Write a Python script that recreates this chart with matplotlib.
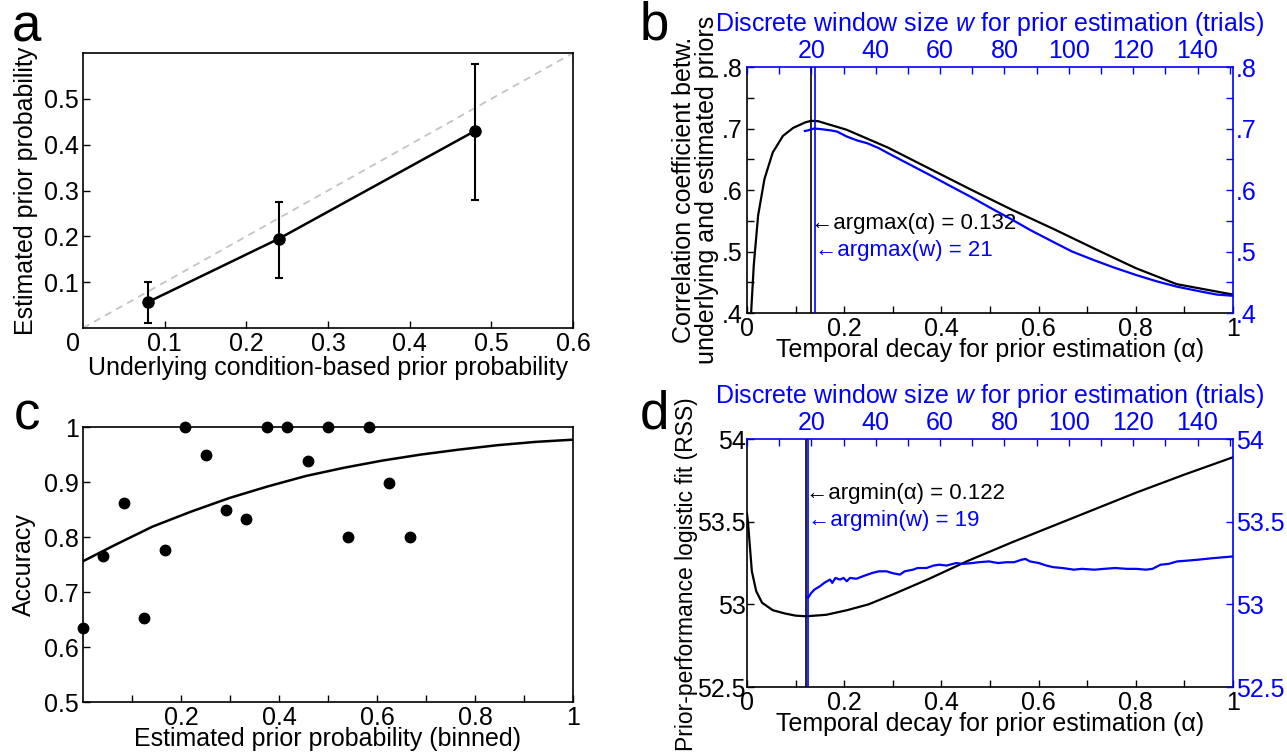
import matplotlib
matplotlib.use("Agg")
import matplotlib.pyplot as plt
import numpy as np
from matplotlib.ticker import MultipleLocator, FixedLocator, FixedFormatter

plt.rcParams['font.family'] = ['Liberation Sans', 'DejaVu Sans']
plt.rcParams['font.size'] = 18
plt.rcParams['mathtext.fontset'] = 'custom'
plt.rcParams['mathtext.it'] = 'Liberation Sans:italic'

BLUE = '#0000ff'

# ---- panel a data
a_true = [0.08, 0.24, 0.48]
a_est = [0.057, 0.195, 0.43]
a_lo = [0.012, 0.11, 0.28]
a_hi = [0.10, 0.275, 0.575]

# ---- panel b data
b_alpha = [0.0085, 0.014, 0.023, 0.036, 0.053, 0.074, 0.095, 0.12, 0.132, 0.146,
           0.205, 0.29, 0.375, 0.46, 0.545, 0.63, 0.714, 0.80, 0.884, 1.0]
b_corr = [0.40, 0.478, 0.559, 0.618, 0.661, 0.688, 0.701, 0.710, 0.7125, 0.712,
          0.698, 0.669, 0.635, 0.601, 0.568, 0.537, 0.505, 0.473, 0.447, 0.430]
b_w = [18, 19, 20, 21, 23, 26, 28, 31, 34, 37.4, 41, 43.8, 50, 56.6, 63, 69.5,
       76, 82.3, 88, 95, 101, 107.8, 114, 120.8, 127, 133.5, 140, 146, 151]
b_wcorr = [0.696, 0.697, 0.699, 0.700, 0.699, 0.697, 0.695, 0.687, 0.681, 0.676,
           0.668, 0.660, 0.643, 0.625, 0.607, 0.589, 0.570, 0.552, 0.535, 0.516,
           0.500, 0.486, 0.474, 0.462, 0.452, 0.443, 0.436, 0.430, 0.428]

# ---- panel c data
c_prior = [0.0, 0.0417, 0.0833, 0.125, 0.1667, 0.2083, 0.25, 0.2917, 0.3333,
           0.375, 0.4167, 0.4583, 0.5, 0.5417, 0.5833, 0.625, 0.6667]
c_acc = [0.635, 0.765, 0.862, 0.653, 0.777, 1.0, 0.950, 0.850, 0.833,
         1.0, 1.0, 0.938, 1.0, 0.80, 1.0, 0.899, 0.80]
c_fit_x = [0.0, 0.064, 0.142, 0.22, 0.299, 0.377, 0.455, 0.533, 0.611, 0.69,
           0.768, 0.846, 0.924, 1.0]
c_fit_y = [0.756, 0.785, 0.819, 0.846, 0.871, 0.892, 0.911, 0.926, 0.939, 0.950,
           0.959, 0.967, 0.973, 0.977]

# ---- panel d data
d_alpha = [0.0, 0.002, 0.006, 0.01, 0.019, 0.031, 0.053, 0.078, 0.10, 0.122, 0.163,
           0.206, 0.25, 0.30, 0.375, 0.452, 0.545, 0.63, 0.715, 0.80, 0.90, 1.0]
d_rss = [53.55, 53.50, 53.35, 53.20, 53.08, 53.01, 52.965, 52.945, 52.932, 52.928,
         52.937, 52.965, 53.0, 53.06, 53.155, 53.26, 53.375, 53.475, 53.575, 53.675,
         53.785, 53.89]
d_w = [18.6, 19, 20, 21, 22.7, 24, 25.8, 26.5, 27.5, 28.9, 30, 31, 32, 34, 36, 38.9,
       41, 43.4, 45, 47.5, 49, 51.6, 53, 55.8, 58, 59.7, 62, 65, 67, 70, 72, 75.2,
       78, 80.6, 83, 85.3, 86.5, 87.9, 90.7, 93, 95.2, 98, 101.6, 104, 108, 111,
       114.4, 118, 120.9, 124, 126, 128.5, 131, 133.7, 137, 140, 145, 151]
d_wrss = [53.045, 53.04, 53.07, 53.09, 53.11, 53.13, 53.15, 53.13, 53.16, 53.15,
          53.16, 53.14, 53.16, 53.155, 53.17, 53.19, 53.20, 53.20, 53.19, 53.18,
          53.20, 53.21, 53.22, 53.22, 53.235, 53.24, 53.235, 53.25, 53.245, 53.25,
          53.255, 53.26, 53.25, 53.255, 53.255, 53.27, 53.275, 53.26, 53.25, 53.235,
          53.225, 53.22, 53.21, 53.215, 53.21, 53.215, 53.22, 53.215, 53.215, 53.21,
          53.215, 53.24, 53.245, 53.26, 53.265, 53.27, 53.28, 53.29]

fig = plt.figure(figsize=(12.87, 7.53), dpi=100)

def style(ax):
    ax.tick_params(direction='in', length=5, width=1, pad=3, labelsize=18)
    ax.tick_params(which='minor', direction='in', length=5, width=1)
    for s in ax.spines.values():
        s.set_linewidth(1.2)

# ---------------- a
axa = fig.add_axes([0.0645, 0.5644, 0.3807, 0.3652])
style(axa)
axa.tick_params(top=False, right=False)
axa.plot([0, 0.6], [0, 0.6], ls='--', color='#c4c4c4', lw=1.3, dashes=(4, 3))
yerr = [np.array(a_est) - np.array(a_lo), np.array(a_hi) - np.array(a_est)]
axa.errorbar(a_true, a_est, yerr=yerr, color='black', lw=1.8, marker='o', ms=8,
             capsize=3, capthick=1.5, elinewidth=1.5)
axa.set_xlim(0, 0.6)
axa.set_ylim(0, 0.6)
axa.xaxis.set_major_locator(FixedLocator([0.1, 0.2, 0.3, 0.4, 0.5, 0.6]))
axa.xaxis.set_major_formatter(FixedFormatter(['0.1', '0.2', '0.3', '0.4', '0.5', '0.6']))
axa.yaxis.set_major_locator(FixedLocator([0.1, 0.2, 0.3, 0.4, 0.5]))
axa.yaxis.set_major_formatter(FixedFormatter(['0.1', '0.2', '0.3', '0.4', '0.5']))
axa.annotate('0', xy=(0, 0), xycoords='axes fraction', xytext=(-2, -3),
             textcoords='offset points', ha='right', va='top', fontsize=18)
axa.set_xlabel('Underlying condition-based prior probability', labelpad=0)
axa.set_ylabel('Estimated prior probability', labelpad=4)

# ---------------- b
axb = fig.add_axes([0.5804, 0.5843, 0.3776, 0.3267])
style(axb)
axb.tick_params(top=False, right=False)
axb.spines['top'].set_visible(False)
axb.spines['right'].set_visible(False)
axb.plot(b_alpha, b_corr, color='black', lw=1.6)
axb.set_xlim(0, 1)
axb.set_ylim(0.4, 0.8)
axb.axvline(0.132, color='black', lw=1.2)
axb.xaxis.set_major_locator(FixedLocator([0, 0.2, 0.4, 0.6, 0.8, 1]))
axb.xaxis.set_major_formatter(FixedFormatter(['0', '0.2', '0.4', '0.6', '0.8', '1']))
axb.xaxis.set_minor_locator(MultipleLocator(0.1))
axb.yaxis.set_major_locator(FixedLocator([0.4, 0.5, 0.6, 0.7, 0.8]))
axb.yaxis.set_major_formatter(FixedFormatter(['.4', '.5', '.6', '.7', '.8']))
axb.yaxis.set_minor_locator(MultipleLocator(0.05))
axb.set_xlabel('Temporal decay for prior estimation (\u03b1)', labelpad=-2)
axb.set_ylabel('Correlation coefficient betw.\nunderlying and estimated priors',
               labelpad=2, linespacing=0.95)
axb.text(0.132, 0.545, '\u2190argmax(\u03b1) = 0.132', ha='left', va='center', fontsize=16)

axb2 = axb.twiny()
style(axb2)
for k in ['left', 'right', 'bottom']:
    axb2.spines[k].set_visible(False)
axb2.spines['top'].set_color(BLUE)
axb2.set_xlim(0, 151)
axb2.xaxis.set_major_locator(FixedLocator([20, 40, 60, 80, 100, 120, 140]))
axb2.xaxis.set_minor_locator(MultipleLocator(10))
axb2.tick_params(axis='x', which='both', colors=BLUE, labelcolor=BLUE)
axb2.plot(b_w, b_wcorr, color=BLUE, lw=1.6)
axb2.axvline(21, color=BLUE, lw=1.2)
axb2.text(21, 0.502, '\u2190argmax(w) = 21', color=BLUE, ha='left', va='center', fontsize=16)
axb2.set_xlabel('Discrete window size $w$ for prior estimation (trials)', color=BLUE, labelpad=6)

axb3 = axb.twinx()
style(axb3)
for k in ['left', 'top', 'bottom']:
    axb3.spines[k].set_visible(False)
axb3.spines['right'].set_color(BLUE)
axb3.set_ylim(0.4, 0.8)
axb3.yaxis.set_major_locator(FixedLocator([0.4, 0.5, 0.6, 0.7, 0.8]))
axb3.yaxis.set_major_formatter(FixedFormatter(['.4', '.5', '.6', '.7', '.8']))
axb3.yaxis.set_minor_locator(MultipleLocator(0.05))
axb3.tick_params(axis='y', which='both', colors=BLUE, labelcolor=BLUE, pad=2)

# ---------------- c
axc = fig.add_axes([0.0645, 0.0677, 0.3807, 0.3652])
style(axc)
axc.tick_params(top=False, right=False)
axc.plot(c_fit_x, c_fit_y, color='black', lw=1.8)
axc.plot(c_prior, c_acc, 'o', color='black', ms=7.5, clip_on=False)
axc.set_xlim(0, 1)
axc.set_ylim(0.5, 1)
axc.xaxis.set_major_locator(FixedLocator([0.2, 0.4, 0.6, 0.8, 1]))
axc.xaxis.set_major_formatter(FixedFormatter(['0.2', '0.4', '0.6', '0.8', '1']))
axc.xaxis.set_minor_locator(FixedLocator([0.1, 0.3, 0.5, 0.7, 0.9]))
axc.yaxis.set_major_locator(FixedLocator([0.5, 0.6, 0.7, 0.8, 0.9, 1.0]))
axc.yaxis.set_major_formatter(FixedFormatter(['0.5', '0.6', '0.7', '0.8', '0.9', '1']))
axc.set_xlabel('Estimated prior probability (binned)', labelpad=-2)
axc.set_ylabel('Accuracy', labelpad=6)

# ---------------- d
axd = fig.add_axes([0.5804, 0.0876, 0.3776, 0.3293])
style(axd)
axd.tick_params(top=False, right=False)
axd.spines['top'].set_visible(False)
axd.spines['right'].set_visible(False)
axd.plot(d_alpha, d_rss, color='black', lw=1.6)
axd.set_xlim(0, 1)
axd.set_ylim(52.5, 54)
axd.axvline(0.122, color='black', lw=1.2)
axd.xaxis.set_major_locator(FixedLocator([0, 0.2, 0.4, 0.6, 0.8, 1]))
axd.xaxis.set_major_formatter(FixedFormatter(['0', '0.2', '0.4', '0.6', '0.8', '1']))
axd.xaxis.set_minor_locator(MultipleLocator(0.1))
axd.yaxis.set_major_locator(FixedLocator([52.5, 53, 53.5, 54]))
axd.yaxis.set_major_formatter(FixedFormatter(['52.5', '53', '53.5', '54']))
axd.tick_params(axis='y', pad=1)
axd.set_xlabel('Temporal decay for prior estimation (\u03b1)', labelpad=-2)
axd.set_ylabel('Prior-performance logistic fit (RSS)', fontsize=16.5)
axd.yaxis.set_label_coords(-0.10, 0.455)
axd.text(0.122, 53.67, '\u2190argmin(\u03b1) = 0.122', ha='left', va='center', fontsize=16)

axd2 = axd.twiny()
style(axd2)
for k in ['left', 'right', 'bottom']:
    axd2.spines[k].set_visible(False)
axd2.spines['top'].set_color(BLUE)
axd2.set_xlim(0, 151)
axd2.xaxis.set_major_locator(FixedLocator([20, 40, 60, 80, 100, 120, 140]))
axd2.xaxis.set_minor_locator(MultipleLocator(10))
axd2.tick_params(axis='x', which='both', colors=BLUE, labelcolor=BLUE)
axd2.plot(d_w, d_wrss, color=BLUE, lw=1.6)
axd2.axvline(19, color=BLUE, lw=1.2)
axd2.text(19, 53.505, '\u2190argmin(w) = 19', color=BLUE, ha='left', va='center', fontsize=16)
axd2.set_xlabel('Discrete window size $w$ for prior estimation (trials)', color=BLUE, labelpad=6)

axd3 = axd.twinx()
style(axd3)
for k in ['left', 'top', 'bottom']:
    axd3.spines[k].set_visible(False)
axd3.spines['right'].set_color(BLUE)
axd3.set_ylim(52.5, 54)
axd3.yaxis.set_major_locator(FixedLocator([52.5, 53, 53.5, 54]))
axd3.yaxis.set_major_formatter(FixedFormatter(['52.5', '53', '53.5', '54']))
axd3.tick_params(axis='y', which='both', colors=BLUE, labelcolor=BLUE, pad=2)

# panel letters
fig.text(0.009, 1 - 42 / 753, 'a', fontsize=38, va='baseline')
fig.text(0.497, 1 - 40 / 753, 'b', fontsize=38, va='baseline')
fig.text(0.011, 1 - 429 / 753, 'c', fontsize=38, va='baseline')
fig.text(0.497, 1 - 428 / 753, 'd', fontsize=38, va='baseline')

fig.savefig('out.png', dpi=100)
